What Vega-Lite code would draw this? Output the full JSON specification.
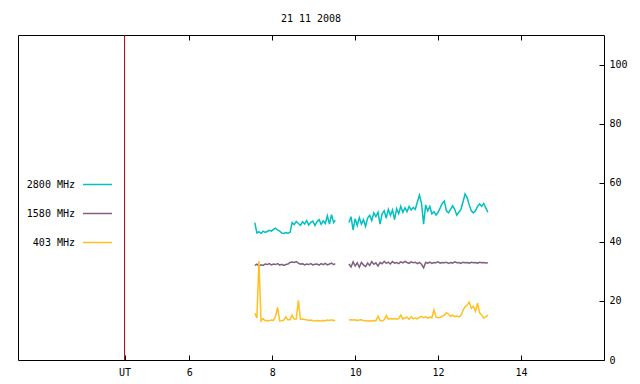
{
  "$schema": "https://vega.github.io/schema/vega-lite/v6.json",
  "width": 586,
  "height": 325,
  "autosize": "none",
  "padding": {"left": 18, "top": 35, "right": 36, "bottom": 24},
  "background": "white",
  "title": {"text": "21 11 2008", "font": "DejaVu Sans Mono", "fontSize": 10, "fontWeight": "normal", "color": "black", "offset": 11, "anchor": "middle"},
  "config": {
    "view": {"stroke": "black", "strokeWidth": 1},
    "axis": {"grid": false, "labelFont": "DejaVu Sans Mono", "labelFontSize": 10, "labelColor": "black", "tickColor": "black", "domain": false, "title": null}
  },
  "datasets": {
    "ut": [{"h": 4.44}],
    "flux": [
{"h":7.58,"f":"2800 MHz","s":1,"v":46.5},{"h":7.63,"f":"2800 MHz","s":1,"v":43.0},{"h":7.68,"f":"2800 MHz","s":1,"v":43.4},{"h":7.73,"f":"2800 MHz","s":1,"v":42.8},{"h":7.78,"f":"2800 MHz","s":1,"v":43.6},{"h":7.83,"f":"2800 MHz","s":1,"v":43.2},{"h":7.88,"f":"2800 MHz","s":1,"v":43.5},{"h":7.93,"f":"2800 MHz","s":1,"v":43.9},{"h":7.98,"f":"2800 MHz","s":1,"v":43.6},{"h":8.03,"f":"2800 MHz","s":1,"v":44.2},
{"h":8.08,"f":"2800 MHz","s":1,"v":44.6},{"h":8.13,"f":"2800 MHz","s":1,"v":44.0},{"h":8.18,"f":"2800 MHz","s":1,"v":43.6},{"h":8.23,"f":"2800 MHz","s":1,"v":43.0},{"h":8.28,"f":"2800 MHz","s":1,"v":42.8},{"h":8.33,"f":"2800 MHz","s":1,"v":43.1},{"h":8.38,"f":"2800 MHz","s":1,"v":42.9},{"h":8.43,"f":"2800 MHz","s":1,"v":43.2},{"h":8.48,"f":"2800 MHz","s":1,"v":46.5},{"h":8.53,"f":"2800 MHz","s":1,"v":45.8},
{"h":8.58,"f":"2800 MHz","s":1,"v":46.9},{"h":8.63,"f":"2800 MHz","s":1,"v":46.2},{"h":8.68,"f":"2800 MHz","s":1,"v":45.6},{"h":8.73,"f":"2800 MHz","s":1,"v":46.8},{"h":8.78,"f":"2800 MHz","s":1,"v":46.0},{"h":8.83,"f":"2800 MHz","s":1,"v":47.2},{"h":8.88,"f":"2800 MHz","s":1,"v":45.7},{"h":8.93,"f":"2800 MHz","s":1,"v":46.6},{"h":8.98,"f":"2800 MHz","s":1,"v":47.0},{"h":9.03,"f":"2800 MHz","s":1,"v":45.5},
{"h":9.08,"f":"2800 MHz","s":1,"v":46.8},{"h":9.13,"f":"2800 MHz","s":1,"v":47.5},{"h":9.18,"f":"2800 MHz","s":1,"v":45.9},{"h":9.23,"f":"2800 MHz","s":1,"v":47.1},{"h":9.28,"f":"2800 MHz","s":1,"v":46.2},{"h":9.33,"f":"2800 MHz","s":1,"v":48.8},{"h":9.38,"f":"2800 MHz","s":1,"v":46.0},{"h":9.43,"f":"2800 MHz","s":1,"v":49.2},{"h":9.48,"f":"2800 MHz","s":1,"v":46.5},{"h":9.52,"f":"2800 MHz","s":1,"v":47.3},
{"h":9.85,"f":"2800 MHz","s":2,"v":46.5},{"h":9.90,"f":"2800 MHz","s":2,"v":48.5},{"h":9.95,"f":"2800 MHz","s":2,"v":44.0},{"h":10.00,"f":"2800 MHz","s":2,"v":47.8},{"h":10.05,"f":"2800 MHz","s":2,"v":45.5},{"h":10.10,"f":"2800 MHz","s":2,"v":48.2},{"h":10.15,"f":"2800 MHz","s":2,"v":46.0},{"h":10.20,"f":"2800 MHz","s":2,"v":47.5},{"h":10.25,"f":"2800 MHz","s":2,"v":45.2},{"h":10.30,"f":"2800 MHz","s":2,"v":48.0},
{"h":10.35,"f":"2800 MHz","s":2,"v":49.0},{"h":10.40,"f":"2800 MHz","s":2,"v":47.2},{"h":10.45,"f":"2800 MHz","s":2,"v":49.8},{"h":10.50,"f":"2800 MHz","s":2,"v":48.5},{"h":10.55,"f":"2800 MHz","s":2,"v":50.0},{"h":10.60,"f":"2800 MHz","s":2,"v":46.0},{"h":10.65,"f":"2800 MHz","s":2,"v":49.5},{"h":10.70,"f":"2800 MHz","s":2,"v":50.5},{"h":10.75,"f":"2800 MHz","s":2,"v":48.0},{"h":10.80,"f":"2800 MHz","s":2,"v":51.0},
{"h":10.85,"f":"2800 MHz","s":2,"v":49.0},{"h":10.90,"f":"2800 MHz","s":2,"v":50.8},{"h":10.95,"f":"2800 MHz","s":2,"v":47.5},{"h":11.00,"f":"2800 MHz","s":2,"v":51.2},{"h":11.05,"f":"2800 MHz","s":2,"v":49.5},{"h":11.10,"f":"2800 MHz","s":2,"v":52.0},{"h":11.15,"f":"2800 MHz","s":2,"v":50.0},{"h":11.20,"f":"2800 MHz","s":2,"v":51.5},{"h":11.25,"f":"2800 MHz","s":2,"v":50.2},{"h":11.30,"f":"2800 MHz","s":2,"v":52.0},
{"h":11.35,"f":"2800 MHz","s":2,"v":50.8},{"h":11.40,"f":"2800 MHz","s":2,"v":51.6},{"h":11.45,"f":"2800 MHz","s":2,"v":51.0},{"h":11.50,"f":"2800 MHz","s":2,"v":53.5},{"h":11.55,"f":"2800 MHz","s":2,"v":55.8},{"h":11.60,"f":"2800 MHz","s":2,"v":53.0},{"h":11.65,"f":"2800 MHz","s":2,"v":46.0},{"h":11.70,"f":"2800 MHz","s":2,"v":52.5},{"h":11.75,"f":"2800 MHz","s":2,"v":50.5},{"h":11.80,"f":"2800 MHz","s":2,"v":52.0},
{"h":11.85,"f":"2800 MHz","s":2,"v":49.5},{"h":11.90,"f":"2800 MHz","s":2,"v":50.2},{"h":11.95,"f":"2800 MHz","s":2,"v":49.0},{"h":12.00,"f":"2800 MHz","s":2,"v":50.0},{"h":12.05,"f":"2800 MHz","s":2,"v":51.5},{"h":12.10,"f":"2800 MHz","s":2,"v":53.0},{"h":12.15,"f":"2800 MHz","s":2,"v":53.8},{"h":12.20,"f":"2800 MHz","s":2,"v":50.5},{"h":12.25,"f":"2800 MHz","s":2,"v":49.8},{"h":12.30,"f":"2800 MHz","s":2,"v":51.0},
{"h":12.35,"f":"2800 MHz","s":2,"v":52.2},{"h":12.40,"f":"2800 MHz","s":2,"v":51.0},{"h":12.45,"f":"2800 MHz","s":2,"v":49.0},{"h":12.50,"f":"2800 MHz","s":2,"v":50.0},{"h":12.55,"f":"2800 MHz","s":2,"v":51.0},{"h":12.60,"f":"2800 MHz","s":2,"v":53.5},{"h":12.65,"f":"2800 MHz","s":2,"v":56.2},{"h":12.70,"f":"2800 MHz","s":2,"v":55.0},{"h":12.75,"f":"2800 MHz","s":2,"v":52.5},{"h":12.80,"f":"2800 MHz","s":2,"v":50.5},
{"h":12.85,"f":"2800 MHz","s":2,"v":49.8},{"h":12.90,"f":"2800 MHz","s":2,"v":50.5},{"h":12.95,"f":"2800 MHz","s":2,"v":52.0},{"h":13.00,"f":"2800 MHz","s":2,"v":52.8},{"h":13.05,"f":"2800 MHz","s":2,"v":52.0},{"h":13.10,"f":"2800 MHz","s":2,"v":53.0},{"h":13.15,"f":"2800 MHz","s":2,"v":51.5},{"h":13.20,"f":"2800 MHz","s":2,"v":50.0},

{"h":7.58,"f":"1580 MHz","s":1,"v":32.0},{"h":7.63,"f":"1580 MHz","s":1,"v":32.4},{"h":7.68,"f":"1580 MHz","s":1,"v":31.8},{"h":7.73,"f":"1580 MHz","s":1,"v":32.2},{"h":7.78,"f":"1580 MHz","s":1,"v":32.0},{"h":7.83,"f":"1580 MHz","s":1,"v":32.5},{"h":7.88,"f":"1580 MHz","s":1,"v":32.3},{"h":7.93,"f":"1580 MHz","s":1,"v":32.6},{"h":7.98,"f":"1580 MHz","s":1,"v":32.2},{"h":8.03,"f":"1580 MHz","s":1,"v":32.5},
{"h":8.08,"f":"1580 MHz","s":1,"v":32.3},{"h":8.13,"f":"1580 MHz","s":1,"v":32.6},{"h":8.18,"f":"1580 MHz","s":1,"v":32.1},{"h":8.23,"f":"1580 MHz","s":1,"v":32.4},{"h":8.28,"f":"1580 MHz","s":1,"v":32.0},{"h":8.33,"f":"1580 MHz","s":1,"v":32.3},{"h":8.38,"f":"1580 MHz","s":1,"v":32.5},{"h":8.43,"f":"1580 MHz","s":1,"v":33.0},{"h":8.48,"f":"1580 MHz","s":1,"v":33.2},{"h":8.53,"f":"1580 MHz","s":1,"v":33.0},
{"h":8.58,"f":"1580 MHz","s":1,"v":33.3},{"h":8.63,"f":"1580 MHz","s":1,"v":32.8},{"h":8.68,"f":"1580 MHz","s":1,"v":32.4},{"h":8.73,"f":"1580 MHz","s":1,"v":32.6},{"h":8.78,"f":"1580 MHz","s":1,"v":32.2},{"h":8.83,"f":"1580 MHz","s":1,"v":32.5},{"h":8.88,"f":"1580 MHz","s":1,"v":32.3},{"h":8.93,"f":"1580 MHz","s":1,"v":32.6},{"h":8.98,"f":"1580 MHz","s":1,"v":32.2},{"h":9.03,"f":"1580 MHz","s":1,"v":32.4},
{"h":9.08,"f":"1580 MHz","s":1,"v":32.5},{"h":9.13,"f":"1580 MHz","s":1,"v":32.1},{"h":9.18,"f":"1580 MHz","s":1,"v":32.6},{"h":9.23,"f":"1580 MHz","s":1,"v":32.3},{"h":9.28,"f":"1580 MHz","s":1,"v":32.7},{"h":9.33,"f":"1580 MHz","s":1,"v":32.2},{"h":9.38,"f":"1580 MHz","s":1,"v":32.5},{"h":9.43,"f":"1580 MHz","s":1,"v":32.8},{"h":9.48,"f":"1580 MHz","s":1,"v":32.3},{"h":9.52,"f":"1580 MHz","s":1,"v":32.6},
{"h":9.85,"f":"1580 MHz","s":2,"v":32.5},{"h":9.90,"f":"1580 MHz","s":2,"v":31.5},{"h":9.95,"f":"1580 MHz","s":2,"v":33.2},{"h":10.00,"f":"1580 MHz","s":2,"v":31.8},{"h":10.05,"f":"1580 MHz","s":2,"v":32.9},{"h":10.10,"f":"1580 MHz","s":2,"v":31.4},{"h":10.15,"f":"1580 MHz","s":2,"v":33.0},{"h":10.20,"f":"1580 MHz","s":2,"v":32.2},{"h":10.25,"f":"1580 MHz","s":2,"v":31.6},{"h":10.30,"f":"1580 MHz","s":2,"v":32.8},
{"h":10.35,"f":"1580 MHz","s":2,"v":32.0},{"h":10.40,"f":"1580 MHz","s":2,"v":33.3},{"h":10.45,"f":"1580 MHz","s":2,"v":32.4},{"h":10.50,"f":"1580 MHz","s":2,"v":32.9},{"h":10.55,"f":"1580 MHz","s":2,"v":31.8},{"h":10.60,"f":"1580 MHz","s":2,"v":33.0},{"h":10.65,"f":"1580 MHz","s":2,"v":32.6},{"h":10.70,"f":"1580 MHz","s":2,"v":33.4},{"h":10.75,"f":"1580 MHz","s":2,"v":32.7},{"h":10.80,"f":"1580 MHz","s":2,"v":33.1},
{"h":10.85,"f":"1580 MHz","s":2,"v":32.5},{"h":10.90,"f":"1580 MHz","s":2,"v":33.3},{"h":10.95,"f":"1580 MHz","s":2,"v":32.8},{"h":11.00,"f":"1580 MHz","s":2,"v":33.0},{"h":11.05,"f":"1580 MHz","s":2,"v":32.6},{"h":11.10,"f":"1580 MHz","s":2,"v":33.2},{"h":11.15,"f":"1580 MHz","s":2,"v":32.9},{"h":11.20,"f":"1580 MHz","s":2,"v":33.4},{"h":11.25,"f":"1580 MHz","s":2,"v":33.0},{"h":11.30,"f":"1580 MHz","s":2,"v":32.7},
{"h":11.35,"f":"1580 MHz","s":2,"v":33.2},{"h":11.40,"f":"1580 MHz","s":2,"v":32.9},{"h":11.45,"f":"1580 MHz","s":2,"v":33.1},{"h":11.50,"f":"1580 MHz","s":2,"v":32.6},{"h":11.55,"f":"1580 MHz","s":2,"v":33.0},{"h":11.60,"f":"1580 MHz","s":2,"v":32.4},{"h":11.65,"f":"1580 MHz","s":2,"v":31.2},{"h":11.70,"f":"1580 MHz","s":2,"v":33.0},{"h":11.75,"f":"1580 MHz","s":2,"v":32.8},{"h":11.80,"f":"1580 MHz","s":2,"v":33.1},
{"h":11.85,"f":"1580 MHz","s":2,"v":32.7},{"h":11.90,"f":"1580 MHz","s":2,"v":33.0},{"h":11.95,"f":"1580 MHz","s":2,"v":32.9},{"h":12.00,"f":"1580 MHz","s":2,"v":33.2},{"h":12.05,"f":"1580 MHz","s":2,"v":32.8},{"h":12.10,"f":"1580 MHz","s":2,"v":33.0},{"h":12.15,"f":"1580 MHz","s":2,"v":32.9},{"h":12.20,"f":"1580 MHz","s":2,"v":33.1},{"h":12.25,"f":"1580 MHz","s":2,"v":32.7},{"h":12.30,"f":"1580 MHz","s":2,"v":33.0},
{"h":12.35,"f":"1580 MHz","s":2,"v":32.8},{"h":12.40,"f":"1580 MHz","s":2,"v":33.2},{"h":12.45,"f":"1580 MHz","s":2,"v":32.9},{"h":12.50,"f":"1580 MHz","s":2,"v":33.0},{"h":12.55,"f":"1580 MHz","s":2,"v":32.7},{"h":12.60,"f":"1580 MHz","s":2,"v":33.1},{"h":12.65,"f":"1580 MHz","s":2,"v":32.9},{"h":12.70,"f":"1580 MHz","s":2,"v":33.0},{"h":12.75,"f":"1580 MHz","s":2,"v":32.8},{"h":12.80,"f":"1580 MHz","s":2,"v":33.1},
{"h":12.85,"f":"1580 MHz","s":2,"v":32.9},{"h":12.90,"f":"1580 MHz","s":2,"v":33.0},{"h":12.95,"f":"1580 MHz","s":2,"v":32.8},{"h":13.00,"f":"1580 MHz","s":2,"v":33.1},{"h":13.05,"f":"1580 MHz","s":2,"v":32.9},{"h":13.10,"f":"1580 MHz","s":2,"v":33.0},{"h":13.15,"f":"1580 MHz","s":2,"v":32.8},{"h":13.20,"f":"1580 MHz","s":2,"v":32.9},

{"h":7.58,"f":"403 MHz","s":1,"v":15.8},{"h":7.63,"f":"403 MHz","s":1,"v":14.2},{"h":7.68,"f":"403 MHz","s":1,"v":33.5},{"h":7.73,"f":"403 MHz","s":1,"v":13.2},{"h":7.78,"f":"403 MHz","s":1,"v":14.0},{"h":7.83,"f":"403 MHz","s":1,"v":13.3},{"h":7.88,"f":"403 MHz","s":1,"v":13.4},{"h":7.93,"f":"403 MHz","s":1,"v":13.3},{"h":7.98,"f":"403 MHz","s":1,"v":13.5},{"h":8.03,"f":"403 MHz","s":1,"v":13.4},
{"h":8.08,"f":"403 MHz","s":1,"v":14.8},{"h":8.13,"f":"403 MHz","s":1,"v":17.8},{"h":8.18,"f":"403 MHz","s":1,"v":13.2},{"h":8.23,"f":"403 MHz","s":1,"v":13.3},{"h":8.28,"f":"403 MHz","s":1,"v":13.5},{"h":8.33,"f":"403 MHz","s":1,"v":14.6},{"h":8.38,"f":"403 MHz","s":1,"v":13.6},{"h":8.43,"f":"403 MHz","s":1,"v":13.7},{"h":8.48,"f":"403 MHz","s":1,"v":15.2},{"h":8.53,"f":"403 MHz","s":1,"v":13.8},
{"h":8.58,"f":"403 MHz","s":1,"v":13.9},{"h":8.63,"f":"403 MHz","s":1,"v":20.2},{"h":8.68,"f":"403 MHz","s":1,"v":13.8},{"h":8.73,"f":"403 MHz","s":1,"v":13.9},{"h":8.78,"f":"403 MHz","s":1,"v":13.7},{"h":8.83,"f":"403 MHz","s":1,"v":13.6},{"h":8.88,"f":"403 MHz","s":1,"v":13.4},{"h":8.93,"f":"403 MHz","s":1,"v":13.5},{"h":8.98,"f":"403 MHz","s":1,"v":13.3},{"h":9.03,"f":"403 MHz","s":1,"v":13.2},
{"h":9.08,"f":"403 MHz","s":1,"v":13.4},{"h":9.13,"f":"403 MHz","s":1,"v":13.3},{"h":9.18,"f":"403 MHz","s":1,"v":13.2},{"h":9.23,"f":"403 MHz","s":1,"v":13.4},{"h":9.28,"f":"403 MHz","s":1,"v":13.3},{"h":9.33,"f":"403 MHz","s":1,"v":13.5},{"h":9.38,"f":"403 MHz","s":1,"v":13.4},{"h":9.43,"f":"403 MHz","s":1,"v":13.6},{"h":9.48,"f":"403 MHz","s":1,"v":13.3},{"h":9.52,"f":"403 MHz","s":1,"v":13.5},
{"h":9.85,"f":"403 MHz","s":2,"v":13.5},{"h":9.90,"f":"403 MHz","s":2,"v":13.6},{"h":9.95,"f":"403 MHz","s":2,"v":13.5},{"h":10.00,"f":"403 MHz","s":2,"v":13.6},{"h":10.05,"f":"403 MHz","s":2,"v":13.4},{"h":10.10,"f":"403 MHz","s":2,"v":13.5},{"h":10.15,"f":"403 MHz","s":2,"v":13.6},{"h":10.20,"f":"403 MHz","s":2,"v":13.4},{"h":10.25,"f":"403 MHz","s":2,"v":13.3},{"h":10.30,"f":"403 MHz","s":2,"v":13.2},
{"h":10.35,"f":"403 MHz","s":2,"v":13.3},{"h":10.40,"f":"403 MHz","s":2,"v":13.2},{"h":10.45,"f":"403 MHz","s":2,"v":13.4},{"h":10.50,"f":"403 MHz","s":2,"v":13.3},{"h":10.55,"f":"403 MHz","s":2,"v":14.8},{"h":10.60,"f":"403 MHz","s":2,"v":13.4},{"h":10.65,"f":"403 MHz","s":2,"v":13.2},{"h":10.70,"f":"403 MHz","s":2,"v":13.6},{"h":10.75,"f":"403 MHz","s":2,"v":15.0},{"h":10.80,"f":"403 MHz","s":2,"v":13.8},
{"h":10.85,"f":"403 MHz","s":2,"v":14.0},{"h":10.90,"f":"403 MHz","s":2,"v":13.9},{"h":10.95,"f":"403 MHz","s":2,"v":14.0},{"h":11.00,"f":"403 MHz","s":2,"v":13.8},{"h":11.05,"f":"403 MHz","s":2,"v":14.0},{"h":11.10,"f":"403 MHz","s":2,"v":15.2},{"h":11.15,"f":"403 MHz","s":2,"v":13.9},{"h":11.20,"f":"403 MHz","s":2,"v":14.2},{"h":11.25,"f":"403 MHz","s":2,"v":14.5},{"h":11.30,"f":"403 MHz","s":2,"v":13.8},
{"h":11.35,"f":"403 MHz","s":2,"v":14.6},{"h":11.40,"f":"403 MHz","s":2,"v":14.0},{"h":11.45,"f":"403 MHz","s":2,"v":14.2},{"h":11.50,"f":"403 MHz","s":2,"v":13.9},{"h":11.55,"f":"403 MHz","s":2,"v":14.4},{"h":11.60,"f":"403 MHz","s":2,"v":14.8},{"h":11.65,"f":"403 MHz","s":2,"v":14.3},{"h":11.70,"f":"403 MHz","s":2,"v":14.6},{"h":11.75,"f":"403 MHz","s":2,"v":14.2},{"h":11.80,"f":"403 MHz","s":2,"v":14.5},
{"h":11.85,"f":"403 MHz","s":2,"v":14.3},{"h":11.90,"f":"403 MHz","s":2,"v":17.0},{"h":11.95,"f":"403 MHz","s":2,"v":14.5},{"h":12.00,"f":"403 MHz","s":2,"v":14.3},{"h":12.05,"f":"403 MHz","s":2,"v":14.4},{"h":12.10,"f":"403 MHz","s":2,"v":14.8},{"h":12.15,"f":"403 MHz","s":2,"v":15.2},{"h":12.20,"f":"403 MHz","s":2,"v":16.0},{"h":12.25,"f":"403 MHz","s":2,"v":15.5},{"h":12.30,"f":"403 MHz","s":2,"v":14.8},
{"h":12.35,"f":"403 MHz","s":2,"v":15.2},{"h":12.40,"f":"403 MHz","s":2,"v":14.7},{"h":12.45,"f":"403 MHz","s":2,"v":14.9},{"h":12.50,"f":"403 MHz","s":2,"v":14.6},{"h":12.55,"f":"403 MHz","s":2,"v":15.0},{"h":12.60,"f":"403 MHz","s":2,"v":16.8},{"h":12.65,"f":"403 MHz","s":2,"v":18.0},{"h":12.70,"f":"403 MHz","s":2,"v":18.6},{"h":12.75,"f":"403 MHz","s":2,"v":19.6},{"h":12.80,"f":"403 MHz","s":2,"v":17.5},
{"h":12.85,"f":"403 MHz","s":2,"v":18.2},{"h":12.90,"f":"403 MHz","s":2,"v":16.5},{"h":12.95,"f":"403 MHz","s":2,"v":19.2},{"h":13.00,"f":"403 MHz","s":2,"v":16.0},{"h":13.05,"f":"403 MHz","s":2,"v":15.2},{"h":13.10,"f":"403 MHz","s":2,"v":14.2},{"h":13.15,"f":"403 MHz","s":2,"v":14.6},{"h":13.20,"f":"403 MHz","s":2,"v":15.2}
    ]
  },
  "layer": [
    {
      "data": {"name": "ut"},
      "mark": {"type": "rule", "color": "#a00000", "strokeWidth": 1},
      "encoding": {
        "x": {"field": "h", "type": "quantitative", "scale": {"domain": [1.87, 16], "nice": false, "zero": false},
              "axis": {"orient": "top", "values": [6, 8, 10, 12, 14], "labels": false, "tickSize": -5, "domain": false}}
      }
    },
    {
      "data": {"name": "flux"},
      "mark": {"type": "line", "strokeWidth": 1.5, "interpolate": "linear"},
      "encoding": {
        "x": {"field": "h", "type": "quantitative", "scale": {"domain": [1.87, 16], "nice": false, "zero": false},
              "axis": {"orient": "bottom", "values": [4.44, 6, 8, 10, 12, 14], "labelExpr": "datum.value < 5 ? 'UT' : '' + datum.value", "tickSize": -5, "labelPadding": 12, "domain": false}},
        "y": {"field": "v", "type": "quantitative", "scale": {"domain": [0, 110], "nice": false, "zero": true},
              "axis": {"orient": "right", "values": [0, 20, 40, 60, 80, 100], "tickSize": -5, "labelPadding": 10, "domain": false}},
        "color": {"field": "f", "type": "nominal", "sort": ["2800 MHz", "1580 MHz", "403 MHz"],
                  "scale": {"domain": ["2800 MHz", "1580 MHz", "403 MHz"], "range": ["#00c0c0", "#806080", "#ffc020"]},
                  "legend": {"title": null, "orient": "none", "legendX": 64, "legendY": 134, "symbolType": "stroke", "symbolSize": 841, "symbolStrokeWidth": 1.5, "labelAlign": "right", "labelOffset": -38, "rowPadding": 8, "labelFont": "DejaVu Sans Mono", "labelFontSize": 10, "labelColor": "black"}},
        "detail": {"field": "s", "type": "nominal"}
      }
    }
  ],
  "resolve": {"axis": {"x": "independent"}}
}
